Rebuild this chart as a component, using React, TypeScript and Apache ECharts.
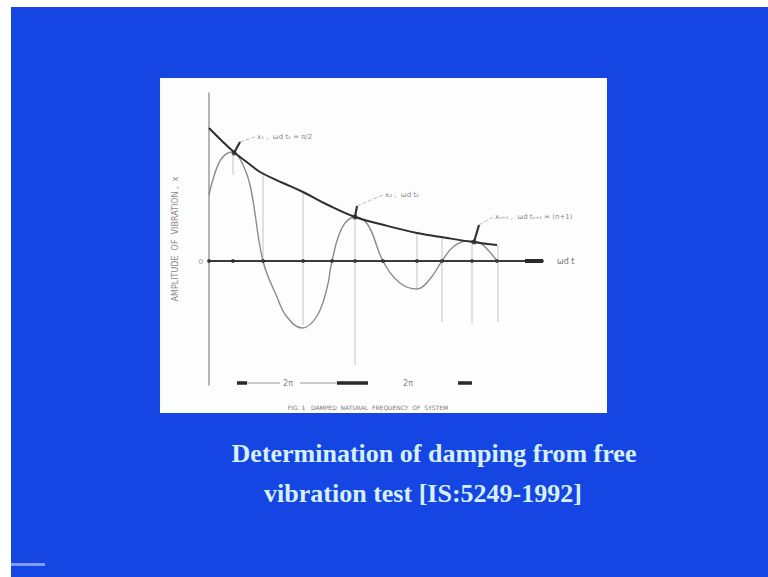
import React, { useEffect, useRef } from "react";
import * as echarts from "echarts";

// x: position along time axis (ωd t, arbitrary units), y: amplitude (arbitrary units)
const envelopeX = [0, 1.3, 2.6, 3.9, 5.1, 7.4, 9.4, 11.9, 14.6, 17.1, 20.8, 23.8, 26.4, 28.8];
const envelopeY = [13.3, 12.0, 10.8, 9.8, 8.9, 7.8, 6.9, 5.6, 4.4, 3.7, 2.8, 2.3, 1.9, 1.6];

const responseX = [0, 0.6, 1.3, 2.3, 3.1, 4.1, 5.4, 6.8, 7.8, 9.3, 10.8, 11.8, 12.3, 13.3, 14.6, 15.9, 17.4, 19.1, 20.8, 22.1, 23.3, 24.4, 25.8, 26.9, 27.9, 28.8];
const responseY = [6.6, 8.8, 10.3, 10.9, 10.2, 7.6, 0, -3.6, -5.6, -6.7, -5.5, -2.7, 0, 3.3, 4.4, 3.6, 0, -2.2, -2.8, -1.8, 0, 1.4, 2.0, 1.9, 1.1, 0];

const guideX = [2.4, 5.4, 9.4, 14.6, 20.8, 23.3, 26.3, 28.9];
const guideTop = [10.6, 8.9, 6.9, 4.4, 2.8, 2.3, 1.9, 1.6];
const guideBottom = [8.6, 0, -6.4, -10.4, -2.7, -6.1, -6.2, -6.1];

const axisDotsX = [0, 2.4, 5.4, 9.4, 12.3, 14.6, 17.4, 20.8, 23.3, 26.3, 28.8, 32.4];

const peakX = [2.5, 14.6, 26.5];
const peakY = [10.8, 4.4, 1.9];
const arrowFromX = [3.1, 14.8, 27.0];
const arrowFromY = [11.9, 5.5, 3.6];
const noteX = [4.6, 17.4, 28.4];
const noteY = [12.4, 6.6, 4.4];
const noteText = ["x₁ ,  ωd t₁ = π/2", "x₂ ,  ωd t₂", "xₙ₊₁ ,  ωd tₙ₊₁ = (n+1)"];

const periodThickStart = [2.8, 12.8, 24.9];
const periodThickEnd = [3.8, 15.9, 26.3];
const periodThinStart = [3.8, 9.1];
const periodThinEnd = [7.1, 12.8];
const periodLabelX = [7.9, 19.9];
const periodLabel = ["2π", "2π"];
const periodY = -12.2;

const axisEndStart = 31.6;
const axisEndEnd = 33.4;

const captionLines = ["Determination of damping from free", "vibration test [IS:5249-1992]"];
const figCaption = "FIG. 1   DAMPED  NATURAL  FREQUENCY  OF  SYSTEM";
const yAxisName = "AMPLITUDE  OF  VIBRATION ,  x";
const xAxisName = "ωd t";

function segs(xs1: number[], ys1: number[], xs2: number[], ys2: number[]) {
  const out: any[] = [];
  xs1.forEach((x, i) => {
    out.push([x, ys1[i]]);
    out.push([xs2[i], ys2[i]]);
    out.push([xs2[i], "-"]);
  });
  return out;
}

export default function App() {
  const ref = useRef<HTMLDivElement>(null);
  useEffect(() => {
    if (!ref.current) return;
    const chart = echarts.init(ref.current, null, { renderer: "svg" });
    const option: any = {
      animation: false,
      backgroundColor: "#ffffff",
      grid: { left: 209, top: 93, width: 334, height: 292 },
      xAxis: {
        type: "value",
        min: 0,
        max: 33.4,
        name: xAxisName,
        nameLocation: "end",
        nameGap: 14,
        nameTextStyle: { color: "#777", fontSize: 8, fontFamily: "DejaVu Sans" },
        axisLine: { onZero: true, lineStyle: { color: "#3a3a3a", width: 2 } },
        axisTick: { show: false },
        axisLabel: { show: false },
        splitLine: { show: false },
      },
      yAxis: {
        type: "value",
        min: -12.4,
        max: 16.8,
        name: yAxisName,
        nameLocation: "middle",
        nameRotate: 90,
        nameGap: 30,
        nameTextStyle: { color: "#8a8a8a", fontSize: 8, fontFamily: "DejaVu Sans" },
        axisLine: { show: true, lineStyle: { color: "#9c9c9c", width: 1.5 } },
        axisTick: { show: false },
        axisLabel: { show: true, customValues: [0], color: "#999", fontSize: 8, margin: 6 },
        splitLine: { show: false },
      },
      graphic: [
        { type: "rect", z: -20, silent: true, shape: { x: 11, y: 7, width: 757, height: 570 }, style: { fill: "#1545e3" } },
        { type: "rect", z: -19, silent: true, shape: { x: 160, y: 78, width: 447, height: 335 }, style: { fill: "#fdfdfd" } },
        { type: "rect", z: -19, silent: true, shape: { x: 11, y: 563, width: 34, height: 3 }, style: { fill: "#7f9cf2" } },
        {
          type: "text", z: 10, silent: true,
          style: { x: 434, y: 466, text: captionLines[0], textAlign: "center", textVerticalAlign: "bottom", fill: "#d6f0ff", font: "bold 26px 'Liberation Serif'" },
        },
        {
          type: "text", z: 10, silent: true,
          style: { x: 423, y: 506, text: captionLines[1], textAlign: "center", textVerticalAlign: "bottom", fill: "#d6f0ff", font: "bold 26px 'Liberation Serif'" },
        },
        {
          type: "text", z: 10, silent: true,
          style: { x: 368, y: 407, text: figCaption, textAlign: "center", textVerticalAlign: "middle", fill: "#7a7a7a", font: "6px 'DejaVu Sans'" },
        },
      ],
      series: [
        {
          name: "guides", type: "line", symbol: "none", connectNulls: false,
          lineStyle: { color: "#c4c4c4", width: 1 },
          data: segs(guideX, guideTop, guideX, guideBottom),
          z: 1,
        },
        {
          name: "response", type: "line", symbol: "none", smooth: 0.4,
          lineStyle: { color: "#8a8a8a", width: 1.4 },
          data: responseX.map((x, i) => [x, responseY[i]]),
          z: 2,
        },
        {
          name: "envelope", type: "line", symbol: "none", smooth: 0.4,
          lineStyle: { color: "#2e2e2e", width: 2 },
          data: envelopeX.map((x, i) => [x, envelopeY[i]]),
          z: 3,
        },
        {
          name: "axisDots", type: "scatter", symbol: "circle", symbolSize: 4,
          itemStyle: { color: "#2a2a2a" },
          data: axisDotsX.map((x) => [x, 0]),
          z: 4,
        },
        {
          name: "axisEnd", type: "line", symbol: "none",
          lineStyle: { color: "#2a2a2a", width: 4 },
          data: [[axisEndStart, 0], [axisEndEnd, 0]],
          z: 4,
        },
        {
          name: "arrows", type: "line", symbol: "none", connectNulls: false,
          lineStyle: { color: "#333", width: 2.2 },
          data: segs(arrowFromX, arrowFromY, peakX, peakY),
          z: 5,
        },
        {
          name: "peaks", type: "scatter", symbol: "circle", symbolSize: 5,
          itemStyle: { color: "#2a2a2a" },
          data: peakX.map((x, i) => [x, peakY[i]]),
          z: 5,
        },
        {
          name: "leaders", type: "line", symbol: "none", connectNulls: false,
          lineStyle: { color: "#bbb", width: 1, type: "dashed" },
          data: segs(arrowFromX, arrowFromY, noteX, noteY),
          z: 4,
        },
        {
          name: "notes", type: "scatter", symbolSize: 0,
          label: {
            show: true, position: "right", distance: 2,
            formatter: (p: any) => noteText[p.dataIndex],
            color: "#666", fontSize: 7, fontFamily: "DejaVu Sans",
          },
          data: noteX.map((x, i) => [x, noteY[i]]),
          z: 6,
        },
        {
          name: "periodThick", type: "line", symbol: "none", connectNulls: false,
          lineStyle: { color: "#2a2a2a", width: 3.5 },
          data: segs(periodThickStart, periodThickStart.map(() => periodY), periodThickEnd, periodThickEnd.map(() => periodY)),
          z: 4,
        },
        {
          name: "periodThin", type: "line", symbol: "none", connectNulls: false,
          lineStyle: { color: "#999", width: 1 },
          data: segs(periodThinStart, periodThinStart.map(() => periodY), periodThinEnd, periodThinEnd.map(() => periodY)),
          z: 4,
        },
        {
          name: "periodLabels", type: "scatter", symbolSize: 0,
          label: {
            show: true, position: "inside",
            formatter: (p: any) => periodLabel[p.dataIndex],
            color: "#666", fontSize: 8, fontFamily: "DejaVu Sans",
          },
          data: periodLabelX.map((x) => [x, periodY]),
          z: 6,
        },
      ],
    };
    chart.setOption(option);
    return () => chart.dispose();
  }, []);
  return (
    <div
      ref={ref}
      style={{ position: "fixed", left: 0, top: 0, width: 768, height: 577 }}
    />
  );
}
